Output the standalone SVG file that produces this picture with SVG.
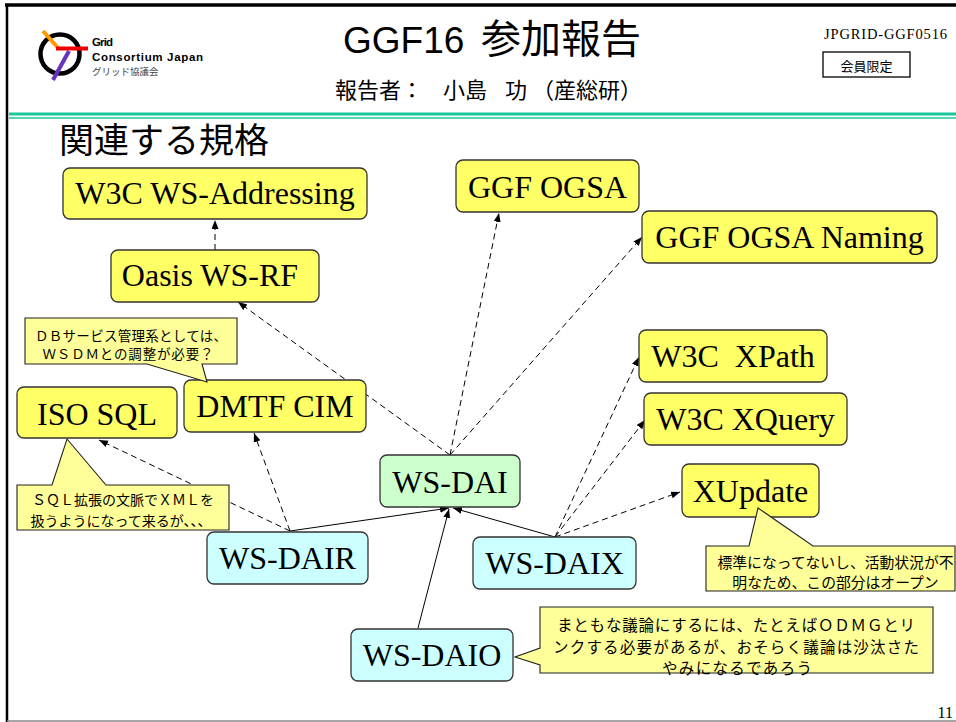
<svg xmlns="http://www.w3.org/2000/svg" width="956" height="722" viewBox="0 0 956 722">
<style>
.jp{font-family:"Noto Sans CJK JP","Liberation Sans",sans-serif;fill:#000}
.hd{font-family:"Liberation Sans","Noto Sans CJK JP",sans-serif;fill:#000}
.node rect{stroke:#333;stroke-width:1.3}
.node text{font-family:"Liberation Serif","Times New Roman",serif;font-size:32px;text-anchor:middle;fill:#000}
.y rect{fill:#ffff66}
.g rect{fill:#ccffcc}
.c rect{fill:#ccffff}
.call path{fill:#ffff99;stroke:#222;stroke-width:1.1}
.call text{font-family:"Noto Sans CJK JP",sans-serif;text-anchor:middle;fill:#000}
.dash{stroke:#000;stroke-width:1;fill:none;stroke-dasharray:6 4;marker-end:url(#ah)}
.solid{stroke:#000;stroke-width:1;fill:none;marker-end:url(#ah)}
</style>
<defs>
<marker id="ah" markerUnits="userSpaceOnUse" markerWidth="10" markerHeight="8" refX="9" refY="3.5" orient="auto">
<path d="M0,0 L9,3.5 L0,7 z" fill="#000"/>
</marker>
</defs>
<rect width="956" height="722" fill="#fff"/>
<g id="frame">
<line x1="5" y1="5" x2="956" y2="5" stroke="#000" stroke-width="3.5"/>
<line x1="7" y1="4" x2="7" y2="722" stroke="#000" stroke-width="2.5"/>
<line x1="7" y1="721" x2="956" y2="721" stroke="#888" stroke-width="1.5"/>
<line x1="9" y1="114" x2="956" y2="114" stroke="#19c79a" stroke-width="3"/>
<line x1="9" y1="118" x2="956" y2="118" stroke="#19c79a" stroke-width="1.5"/>
</g>
<g id="logo">
<circle cx="60" cy="54" r="19.5" fill="none" stroke="#000" stroke-width="4.5"/>
<line x1="43" y1="31" x2="59" y2="49" stroke="#ff9900" stroke-width="4"/>
<line x1="56" y1="48.5" x2="88" y2="48.5" stroke="#ee0000" stroke-width="4"/>
<line x1="69" y1="51" x2="53" y2="80" stroke="#6633bb" stroke-width="4"/>
<text x="92" y="46" class="hd" font-size="11.5" font-weight="bold" textLength="21">Grid</text>
<text x="92" y="61" class="hd" font-size="11.5" font-weight="bold" textLength="111">Consortium Japan</text>
<text x="92" y="75" class="jp" font-size="9.5" style="fill:#444">グリッド協議会</text>
</g>
<g id="header">
<text class="hd" y="53"><tspan x="343" font-size="37">GGF16</tspan><tspan x="481" font-size="40" font-family="Noto Sans CJK JP, sans-serif">参加報告</tspan></text>
<text class="jp" y="98" font-size="22"><tspan x="335">報告者：</tspan><tspan x="443">小島</tspan><tspan x="505">功</tspan><tspan x="532">（産総研）</tspan></text>
<text x="824" y="39" font-family="Liberation Serif, serif" font-size="14.5" textLength="123">JPGRID-GGF0516</text>
<rect x="823" y="52" width="87" height="25" fill="#fff" stroke="#000" stroke-width="1.3"/>
<text x="866.5" y="71" class="jp" font-size="13" text-anchor="middle">会員限定</text>
<text x="59" y="153" class="jp" font-size="35">関連する規格</text>
<text x="953" y="718" font-family="Liberation Serif, serif" font-size="16" text-anchor="end">11</text>
</g>
<g id="connectors">
<line class="dash" x1="215" y1="250" x2="215" y2="220"/>
<line class="dash" x1="450" y1="455" x2="238" y2="302"/>
<line class="dash" x1="450" y1="455" x2="499" y2="213"/>
<line class="dash" x1="450" y1="455" x2="642" y2="237"/>
<line class="dash" x1="290" y1="531" x2="99" y2="440"/>
<line class="dash" x1="290" y1="531" x2="254" y2="433"/>
<line class="solid" x1="290" y1="531" x2="449" y2="508"/>
<line class="solid" x1="418" y1="628" x2="449" y2="509"/>
<line class="solid" x1="555" y1="537" x2="453" y2="508"/>
<line class="dash" x1="555" y1="537" x2="639" y2="357"/>
<line class="dash" x1="555" y1="537" x2="645" y2="420"/>
<line class="dash" x1="555" y1="537" x2="680" y2="492"/>
</g>
<g id="n-wsa" class="node y"><rect x="63" y="168" width="304" height="51" rx="7"/><text x="215" y="204">W3C WS-Addressing</text></g>
<g id="n-oasis" class="node y"><rect x="111" y="250" width="208" height="52" rx="7"/><text x="210" y="286">Oasis WS-RF</text></g>
<g id="n-ogsa" class="node y"><rect x="456" y="160" width="183" height="52" rx="7"/><text x="547.5" y="197.5">GGF OGSA</text></g>
<g id="n-naming" class="node y"><rect x="642" y="211" width="295" height="52" rx="7"/><text x="789.5" y="248">GGF OGSA Naming</text></g>
<g id="n-xpath" class="node y"><rect x="639" y="330" width="188" height="52" rx="7"/><text x="733" y="367" xml:space="preserve">W3C  XPath</text></g>
<g id="n-xquery" class="node y"><rect x="644" y="393" width="203" height="52" rx="7"/><text x="745.5" y="430">W3C XQuery</text></g>
<g id="n-xupdate" class="node y"><rect x="682" y="464" width="137" height="53" rx="7"/><text x="750.5" y="501.5">XUpdate</text></g>
<g id="n-isosql" class="node y"><rect x="17" y="387" width="160" height="51" rx="7"/><text x="97" y="425">ISO SQL</text></g>
<g id="n-cim" class="node y"><rect x="184" y="380" width="182" height="52" rx="7"/><text x="275" y="417">DMTF CIM</text></g>
<g id="n-wsdai" class="node g"><rect x="380" y="455" width="140" height="52" rx="7"/><text x="450" y="493">WS-DAI</text></g>
<g id="n-dair" class="node c"><rect x="207" y="532" width="161" height="52" rx="7"/><text x="287.5" y="569">WS-DAIR</text></g>
<g id="n-daix" class="node c"><rect x="473" y="537" width="163" height="52" rx="7"/><text x="554.5" y="574">WS-DAIX</text></g>
<g id="n-daio" class="node c"><rect x="351" y="629" width="162" height="52" rx="7"/><text x="432" y="666">WS-DAIO</text></g>
<g id="c-db" class="call">
<path d="M25,318 H237 V364 H202 L207,382 L147,364 H25 Z"/>
<text x="131" y="340.5" font-size="13.5" textLength="192">ＤＢサービス管理系としては、</text>
<text x="128" y="359" font-size="13.5" textLength="171">ＷＳＤＭとの調整が必要？</text>
</g>
<g id="c-sql" class="call">
<path d="M17,485 H52 L67,439 L106,485 H229 V530 H17 Z"/>
<text x="123" y="505" font-size="14">ＳＱＬ拡張の文脈でＸＭＬを</text>
<text x="121" y="526" font-size="14">扱うようになって来るが、、、</text>
</g>
<g id="c-xupdate" class="call">
<path d="M706,546 H749 L758,508 L813,546 H955 V591 H706 Z"/>
<text x="835.5" y="568" font-size="14.8">標準になってないし、活動状況が不</text>
<text x="835.5" y="587.5" font-size="14.8">明なため、この部分はオープン</text>
</g>
<g id="c-daio" class="call">
<path d="M540,607 H933 V673 H540 V665 L515,657 L540,648 Z"/>
<text x="736" y="631" font-size="15.5" textLength="358">まともな議論にするには、たとえばＯＤＭＧとリ</text>
<text x="736" y="652.5" font-size="15.5" textLength="366">ンクする必要があるが、おそらく議論は沙汰さた</text>
<text x="737" y="674" font-size="15.5" textLength="150">やみになるであろう</text>
</g>
</svg>
